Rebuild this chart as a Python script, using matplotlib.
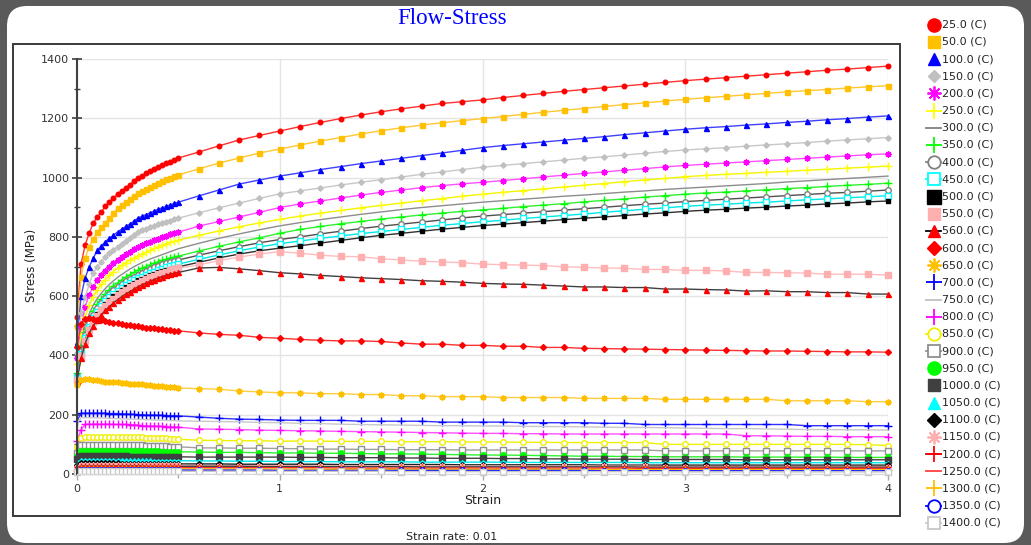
import matplotlib
matplotlib.use('Agg')
import matplotlib.pyplot as plt
from matplotlib.patches import FancyBboxPatch, Rectangle
from matplotlib.ticker import MultipleLocator

plt.rcParams['font.family'] = ['DejaVu Sans']

# ---------------- data ----------------
strain = [0.00, 0.02, 0.04, 0.06, 0.08, 0.10, 0.12, 0.14, 0.16, 0.18, 0.20, 0.22, 0.24,
          0.26, 0.28, 0.30, 0.32, 0.34, 0.36, 0.38, 0.40, 0.42, 0.44, 0.46, 0.48, 0.50,
          0.6, 0.7, 0.8, 0.9, 1.0, 1.1, 1.2, 1.3, 1.4, 1.5, 1.6, 1.7, 1.8, 1.9, 2.0,
          2.1, 2.2, 2.3, 2.4, 2.5, 2.6, 2.7, 2.8, 2.9, 3.0,
          3.1, 3.2, 3.3, 3.4, 3.5, 3.6, 3.7, 3.8, 3.9, 4.0]

temperatures = [25.0, 50.0, 100.0, 150.0, 200.0, 250.0, 300.0, 350.0, 400.0, 450.0,
                500.0, 550.0, 560.0, 600.0, 650.0, 700.0, 750.0, 800.0, 850.0, 900.0,
                950.0, 1000.0, 1050.0, 1100.0, 1150.0, 1200.0, 1250.0, 1300.0, 1350.0, 1400.0]

stress_25 = [530, 708, 772, 813, 846, 867, 884, 904, 917, 931, 944, 955, 965, 976, 987, 998, 1006, 1014, 1022, 1029, 1036, 1042, 1048, 1054, 1060, 1066,
             1086, 1107, 1127, 1142, 1157, 1172, 1186, 1199, 1211, 1222, 1232, 1241, 1250, 1256, 1262,
             1270, 1277, 1284, 1291, 1297, 1303, 1309, 1315, 1321, 1327,
             1332, 1337, 1342, 1347, 1352, 1357, 1362, 1366, 1371, 1376]
stress_50 = [499, 665, 729, 766, 793, 816, 833, 848, 862, 880, 897, 908, 918, 928, 938, 948, 955, 962, 969, 976, 982, 988, 994, 999, 1004, 1009,
             1029, 1049, 1066, 1083, 1096, 1110, 1123, 1135, 1147, 1158, 1168, 1177, 1185, 1192, 1199,
             1206, 1213, 1220, 1227, 1233, 1240, 1246, 1252, 1258, 1264,
             1269, 1274, 1279, 1284, 1289, 1293, 1297, 1302, 1306, 1310]
stress_100 = [445, 600, 661, 699, 728, 755, 770, 784, 796, 806, 816, 826, 835, 843, 853, 863, 869, 875, 881, 887, 893, 898, 903, 908, 913, 917,
              938, 958, 978, 992, 1005, 1016, 1027, 1037, 1047, 1056, 1065, 1074, 1083, 1092, 1101,
              1108, 1114, 1120, 1126, 1132, 1138, 1145, 1151, 1157, 1163,
              1168, 1172, 1177, 1181, 1186, 1190, 1195, 1199, 1204, 1208]
stress_150 = [408, 543, 597, 640, 678, 699, 716, 731, 744, 755, 766, 776, 786, 795, 806, 816, 822, 828, 833, 838, 843, 847, 851, 855, 859, 863,
              881, 898, 914, 930, 945, 955, 965, 975, 984, 993, 1002, 1011, 1019, 1027, 1035,
              1041, 1047, 1053, 1059, 1065, 1070, 1076, 1082, 1088, 1093,
              1097, 1101, 1106, 1110, 1114, 1118, 1123, 1127, 1131, 1135]
stress_200 = [391, 496, 564, 605, 631, 655, 672, 686, 699, 711, 722, 732, 741, 750, 758, 766, 772, 778, 784, 789, 794, 799, 804, 808, 812, 816,
              836, 852, 867, 883, 899, 911, 921, 931, 941, 950, 958, 966, 973, 979, 984,
              990, 996, 1002, 1008, 1014, 1019, 1025, 1030, 1036, 1041,
              1045, 1049, 1053, 1057, 1061, 1065, 1069, 1073, 1077, 1080]
stress_250 = [370, 470, 530, 570, 598, 621, 640, 656, 670, 683, 694, 704, 713, 721, 728, 735, 742, 748, 755, 761, 767, 772, 777, 781, 785, 789,
              805, 820, 834, 847, 859, 870, 880, 889, 898, 906, 914, 922, 929, 937, 944,
              950, 956, 962, 968, 974, 980, 986, 992, 997, 1003,
              1007, 1011, 1014, 1018, 1021, 1025, 1028, 1032, 1035, 1039]
stress_300 = [350, 440, 500, 540, 570, 592, 610, 626, 640, 652, 663, 673, 682, 691, 699, 706, 713, 719, 725, 730, 735, 740, 745, 750, 755, 760,
              778, 795, 810, 824, 837, 848, 858, 867, 876, 884, 892, 899, 905, 911, 917,
              922, 927, 932, 937, 941, 946, 951, 955, 960, 964,
              968, 972, 976, 980, 985, 989, 993, 997, 1001, 1005]
stress_350 = [340, 425, 480, 520, 550, 573, 592, 608, 622, 634, 645, 655, 664, 672, 680, 687, 694, 700, 706, 711, 716, 721, 725, 729, 732, 735,
              752, 768, 783, 797, 812, 825, 835, 844, 852, 860, 867, 874, 880, 886, 891,
              896, 902, 907, 912, 918, 923, 928, 934, 939, 944,
              948, 951, 955, 959, 963, 966, 970, 974, 977, 981]
stress_400 = [330, 415, 470, 508, 537, 560, 578, 594, 608, 620, 631, 641, 650, 658, 666, 673, 679, 685, 691, 697, 702, 707, 711, 715, 719, 722,
              738, 753, 767, 780, 791, 800, 810, 819, 828, 836, 843, 850, 857, 864, 870,
              875, 880, 885, 890, 895, 900, 905, 910, 914, 919,
              923, 927, 931, 935, 939, 943, 947, 950, 954, 958]
stress_450 = [325, 405, 460, 497, 525, 548, 566, 582, 596, 608, 619, 629, 638, 646, 653, 660, 666, 672, 678, 683, 688, 693, 697, 701, 705, 708,
              724, 739, 753, 766, 777, 786, 795, 803, 811, 818, 825, 832, 839, 845, 851,
              856, 862, 867, 872, 877, 883, 888, 893, 898, 903,
              907, 910, 914, 917, 921, 925, 928, 932, 935, 939]
stress_500 = [320, 400, 452, 490, 518, 540, 558, 574, 588, 600, 611, 621, 630, 638, 646, 653, 659, 665, 670, 675, 680, 684, 688, 692, 696, 699,
              714, 729, 742, 753, 762, 770, 779, 788, 797, 805, 812, 819, 826, 832, 838,
              843, 848, 853, 858, 863, 867, 872, 877, 881, 886,
              890, 893, 897, 900, 904, 907, 911, 914, 918, 921]
stress_550 = [318, 398, 448, 485, 512, 534, 552, 567, 580, 592, 603, 613, 622, 630, 638, 645, 652, 658, 664, 669, 674, 679, 683, 687, 691, 694,
              705, 720, 732, 742, 750, 745, 738, 734, 733, 726, 722, 718, 715, 713, 708,
              706, 705, 703, 699, 697, 695, 694, 690, 690, 687,
              687, 685, 680, 680, 679, 678, 674, 674, 674, 671]
stress_560 = [315, 390, 440, 475, 500, 520, 537, 552, 565, 577, 588, 598, 607, 615, 623, 631, 638, 644, 650, 656, 661, 666, 670, 674, 677, 680,
              695, 697, 692, 686, 679, 675, 670, 666, 662, 659, 656, 652, 650, 647, 643,
              641, 640, 637, 634, 631, 631, 629, 629, 624, 624,
              622, 621, 617, 618, 615, 615, 612, 612, 607, 607]
stress_600 = [430, 505, 524, 526, 524, 521, 518, 515, 512, 510, 508, 506, 504, 502, 500, 498, 496, 494, 493, 491, 490, 488, 487, 486, 484, 483,
              476, 471, 468, 461, 458, 454, 451, 449, 449, 447, 442, 438, 438, 434, 434,
              431, 431, 427, 427, 424, 423, 422, 421, 420, 419,
              418, 417, 416, 415, 415, 414, 413, 412, 412, 411]
stress_650 = [300, 318, 321, 320, 318, 316, 314, 312, 311, 310, 309, 308, 306, 305, 304, 303, 302, 300, 299, 298, 297, 296, 295, 293, 292, 290,
              288, 286, 280, 277, 274, 274, 271, 271, 268, 268, 264, 264, 261, 261, 261,
              258, 258, 258, 258, 255, 255, 255, 255, 252, 252,
              252, 252, 252, 252, 247, 247, 247, 247, 244, 244]
stress_700 = [180, 205, 205, 205, 205, 205, 205, 205, 204, 204, 204, 203, 202, 202, 201, 200, 200, 199, 199, 199, 198, 198, 197, 197, 196, 196,
              192, 188, 185, 184, 182, 181, 181, 181, 178, 178, 178, 178, 175, 175, 175,
              175, 173, 173, 173, 173, 171, 171, 167, 167, 167,
              167, 167, 167, 167, 167, 163, 163, 163, 163, 163]
stress_750 = [170, 190, 190, 190, 190, 189, 189, 188, 188, 187, 187, 186, 186, 185, 185, 184, 184, 183, 183, 182, 182, 181, 181, 180, 180, 179,
              178, 177, 176, 174, 173, 171, 170, 168, 167, 166, 165, 164, 163, 163, 162,
              162, 161, 160, 160, 159, 158, 157, 157, 156, 155,
              154, 153, 153, 152, 151, 150, 150, 149, 149, 148]
stress_800 = [110, 150, 168, 168, 168, 168, 168, 168, 168, 168, 167, 167, 167, 166, 166, 165, 163, 163, 162, 162, 161, 161, 160, 160, 159, 158,
              152, 151, 150, 148, 147, 146, 145, 144, 143, 142, 141, 140, 139, 138, 137,
              137, 136, 136, 135, 135, 135, 135, 135, 135, 135,
              135, 135, 129, 129, 128, 127, 127, 126, 126, 126]
stress_850 = [90, 120, 126, 126, 126, 126, 126, 126, 126, 126, 126, 125, 125, 125, 125, 124, 124, 123, 123, 122, 122, 121, 120, 119, 118, 117,
              114, 113, 112, 112, 111, 111, 111, 110, 110, 110, 109, 109, 109, 108, 108,
              108, 107, 107, 106, 106, 106, 106, 106, 100, 100,
              100, 100, 100, 100, 100, 100, 100, 100, 99, 96]
stress_900 = [70, 98, 98, 98, 98, 98, 98, 98, 98, 98, 98, 98, 98, 98, 98, 97, 97, 96, 96, 95, 94, 93, 93, 92, 92, 92,
              88, 88, 87, 87, 86, 85, 84, 84, 83, 83, 82, 82, 82, 81, 81,
              81, 81, 81, 81, 81, 81, 81, 81, 78, 78,
              78, 78, 78, 78, 78, 78, 78, 78, 78, 78]
stress_950 = [60, 78, 78, 78, 78, 78, 78, 78, 78, 78, 77, 77, 77, 77, 77, 77, 76, 76, 76, 76, 76, 75, 75, 75, 75, 75,
              74, 73, 73, 72, 71, 71, 70, 70, 69, 68, 68, 67, 66, 65, 64,
              64, 63, 62, 61, 60, 60, 59, 59, 58, 58,
              58, 58, 57, 57, 57, 57, 57, 56, 56, 56]
stress_1000 = [50, 60, 60, 60, 60, 60, 60, 60, 60, 60, 60, 60, 60, 59, 59, 59, 59, 59, 59, 58, 58, 58, 58, 58, 58, 58,
               57, 57, 57, 57, 57, 56, 56, 55, 55, 55, 54, 54, 53, 53, 53,
               52, 52, 51, 51, 50, 50, 50, 49, 49, 49,
               49, 49, 48, 48, 48, 48, 48, 48, 48, 48]
stress_1050 = [40, 47, 47, 47, 47, 47, 47, 47, 47, 47, 47, 47, 46, 46, 46, 46, 46, 46, 46, 45, 45, 45, 45, 45, 45, 45,
               44, 44, 43, 43, 42, 42, 42, 41, 41, 41, 41, 40, 40, 40, 40,
               40, 39, 39, 39, 39, 39, 39, 38, 38, 38,
               38, 38, 38, 38, 38, 38, 38, 38, 38, 38]
stress_1100 = [30, 36, 36, 36, 36, 36, 36, 36, 36, 36, 36, 35, 35, 35, 35, 35, 35, 35, 35, 35, 34, 34, 34, 34, 34, 34,
               34, 34, 33, 33, 33, 33, 33, 32, 32, 32, 32, 32, 32, 31, 31,
               31, 31, 31, 31, 31, 30, 30, 30, 30, 30,
               30, 30, 30, 30, 30, 30, 30, 30, 30, 30]
stress_1150 = [25, 30, 30, 30, 30, 30, 30, 30, 30, 30, 30, 30, 30, 30, 29, 29, 29, 29, 29, 29, 29, 29, 29, 29, 29, 29,
               28, 28, 28, 28, 28, 28, 27, 27, 27, 27, 27, 27, 27, 26, 26,
               26, 26, 26, 26, 26, 26, 26, 26, 25, 25,
               25, 25, 25, 25, 25, 25, 25, 25, 25, 25]
stress_1200 = [22, 27, 27, 27, 27, 27, 27, 27, 27, 27, 27, 27, 27, 27, 27, 27, 27, 26, 26, 26, 26, 26, 26, 26, 26, 26,
               26, 26, 26, 25, 25, 25, 25, 25, 25, 25, 25, 24, 24, 24, 24,
               24, 24, 24, 24, 24, 24, 24, 23, 23, 23,
               23, 23, 23, 23, 23, 23, 23, 23, 23, 23]
stress_1250 = [18, 22, 22, 22, 22, 22, 22, 22, 22, 22, 22, 22, 22, 22, 22, 21, 21, 21, 21, 21, 21, 21, 21, 21, 21, 21,
               21, 21, 21, 21, 21, 21, 21, 20, 20, 20, 20, 20, 20, 20, 20,
               20, 20, 20, 20, 20, 20, 20, 19, 19, 19,
               19, 19, 19, 19, 19, 19, 19, 19, 19, 19]
stress_1300 = [14, 17, 17, 17, 17, 17, 17, 17, 17, 17, 17, 17, 17, 17, 17, 17, 17, 17, 17, 17, 17, 17, 17, 17, 17, 17,
               17, 17, 17, 17, 17, 16, 16, 16, 16, 16, 16, 16, 16, 16, 16,
               16, 16, 16, 16, 16, 15, 15, 15, 15, 15,
               15, 15, 15, 15, 15, 15, 15, 15, 15, 15]
stress_1350 = [10, 13, 13, 13, 13, 13, 13, 13, 13, 13, 13, 13, 13, 13, 13, 13, 13, 13, 13, 13, 13, 13, 13, 13, 13, 13,
               13, 13, 13, 13, 12, 12, 12, 12, 12, 12, 12, 12, 12, 12, 12,
               12, 12, 12, 12, 12, 11, 11, 11, 11, 11,
               11, 11, 11, 11, 11, 11, 11, 11, 11, 11]
stress_1400 = [7, 9, 9, 9, 9, 9, 9, 9, 9, 9, 9, 9, 9, 9, 9, 9, 9, 9, 9, 9, 9, 9, 9, 9, 9, 9,
               9, 9, 9, 9, 9, 9, 9, 9, 9, 9, 8, 8, 8, 8, 8,
               8, 8, 8, 8, 8, 8, 8, 8, 8, 7,
               7, 7, 7, 7, 7, 7, 7, 7, 7, 7]

series_values = [stress_25, stress_50, stress_100, stress_150, stress_200, stress_250,
                 stress_300, stress_350, stress_400, stress_450, stress_500, stress_550,
                 stress_560, stress_600, stress_650, stress_700, stress_750, stress_800,
                 stress_850, stress_900, stress_950, stress_1000, stress_1050, stress_1100,
                 stress_1150, stress_1200, stress_1250, stress_1300, stress_1350, stress_1400]

# ---------------- styles ----------------
AST = (8, 2, 0)
def S(m, mc, lc, fill=True, ms=4, lms=9, legline=None, mew=1.0):
    return dict(m=m, mc=mc, lc=lc, fill=fill, ms=ms, lms=lms, legline=legline, mew=mew)

styles = [
    S('o', '#ff0000', '#ff3030', ms=3.3, lms=9.5),
    S('s', '#ffc000', '#ffc830', ms=3.6, lms=8),
    S('^', '#0000ff', '#4040ff', ms=3.6, lms=8.5),
    S('D', '#c0c0c0', '#c8c8c8', ms=2.8, lms=6.5),
    S(AST, '#ff00ff', '#ff50ff', ms=4.5, lms=10),
    S('+', '#ffff00', '#f4f400', ms=5.5, lms=11),
    S(None, '#808080', '#8c8c8c', legline='#808080'),
    S('+', '#00ff00', '#30f030', ms=5.5, lms=11),
    S('o', '#808080', '#505050', fill=False, ms=4, lms=9, legline='#808080'),
    S('s', '#00ffff', '#00e8e8', fill=False, ms=4, lms=9, legline='#00ffff'),
    S('s', '#000000', '#303030', ms=3.3, lms=9.5),
    S('s', '#ffafaf', '#ffbcbc', ms=3.8, lms=8),
    S('^', '#ff0000', '#404040', ms=3.6, lms=8.5, legline='#000000'),
    S('D', '#ff0000', '#ff3030', ms=3.0, lms=7),
    S(AST, '#ffc000', '#ffcc40', ms=4.5, lms=10),
    S('+', '#0000ff', '#3030ff', ms=5.5, lms=11),
    S(None, '#c8c8c8', '#c8c8c8', legline='#c0c0c0'),
    S('+', '#ff00ff', '#ff50ff', ms=5.5, lms=11),
    S('o', '#f0f000', '#f0f000', fill=False, ms=4, lms=9, legline='#f0f000'),
    S('s', '#909090', '#a0a0a0', fill=False, ms=4, lms=9, legline='#909090'),
    S('o', '#00ff00', '#30f030', ms=4, lms=9.5),
    S('s', '#404040', '#404040', ms=4, lms=9),
    S('^', '#00ffff', '#00e8e8', ms=3.6, lms=9),
    S('D', '#000000', '#202020', ms=3.0, lms=7.5),
    S(AST, '#ffafaf', '#ffb0b0', ms=4.5, lms=10),
    S('+', '#ff0000', '#404040', ms=5, lms=11, legline='#404040'),
    S(None, '#ff0000', '#ff2020', legline='#ff4040'),
    S('+', '#ffc000', '#ffc000', ms=5.5, lms=11),
    S('o', '#0000ff', '#2020ff', fill=False, ms=4, lms=9, legline='#0000ff'),
    S('s', '#c8c8c8', '#c8c8c8', fill=False, ms=4, lms=9, legline='#c8c8c8'),
]

# ---------------- figure ----------------
W, H = 1031, 545
fig = plt.figure(figsize=(W / 100, H / 100), dpi=100)
fig.patch.set_facecolor('#5a5a5a')

bg = fig.add_axes([0, 0, 1, 1], zorder=-1)
bg.set_xlim(0, W)
bg.set_ylim(H, 0)
bg.axis('off')
bg.add_patch(FancyBboxPatch((7, 6), 1017, 537, boxstyle='round,pad=0,rounding_size=20',
                            fc='white', ec='none'))
bg.add_patch(Rectangle((13, 44), 887, 472, fill=False, ec='#3a3a3a', lw=1.4))

bg.text(452, 19, 'Flow-Stress', color='#0000ff', family='Liberation Serif',
        fontsize=16.5, ha='center', va='center')
bg.text(452, 537, 'Strain rate: 0.01', color='#222222', fontsize=8,
        ha='center', va='center')

ax = fig.add_axes([77 / W, 1 - 474 / H, (888 - 77) / W, (474 - 59) / H])
ax.set_facecolor('none')
ax.set_xlim(0, 4)
ax.set_ylim(0, 1400)

for T, y, st in zip(temperatures, series_values, styles):
    assert len(y) == len(strain), T
    kw = dict(color=st['lc'], lw=1.0, clip_on=False)
    if st['m'] is not None:
        kw.update(marker=st['m'], ms=st['ms'], mec=st['mc'],
                  mfc=(st['mc'] if st['fill'] else 'white'), mew=st['mew'])
    ax.plot(strain, y, **kw)

ax.xaxis.set_major_locator(MultipleLocator(1))
ax.xaxis.set_minor_locator(MultipleLocator(0.5))
ax.yaxis.set_major_locator(MultipleLocator(200))
ax.yaxis.set_minor_locator(MultipleLocator(100))
ax.grid(True, which='major', color='#e4e4e4', lw=1.0, zorder=0)
ax.set_axisbelow(True)
for s in ['top', 'right']:
    ax.spines[s].set_visible(False)
ax.spines['bottom'].set_color('#d8d8d8')
ax.spines['left'].set_color('#404040')
ax.spines['left'].set_linewidth(1.5)
ax.tick_params(axis='y', which='major', direction='inout', length=7, width=1.2,
               color='#404040', labelsize=8, labelcolor='#333333', pad=2)
ax.tick_params(axis='y', which='minor', direction='inout', length=5, width=1.0,
               color='#404040')
ax.tick_params(axis='x', which='major', direction='out', length=4, width=1,
               color='#aaaaaa', labelsize=8, labelcolor='#333333', pad=3)
ax.tick_params(axis='x', which='minor', direction='out', length=3, width=1,
               color='#aaaaaa')

bg.text(31, 265, 'Stress (MPa)', rotation=90, fontsize=8.5, color='#222222',
        ha='center', va='center')
bg.text(483, 501, 'Strain', fontsize=9, color='#222222', ha='center', va='center')

# ---------------- legend ----------------
for i, (T, st) in enumerate(zip(temperatures, styles)):
    yy = 24.8 + 17.17 * i
    if st['legline'] is not None:
        bg.plot([926, 941], [yy, yy], color=st['legline'], lw=1.3)
    if st['m'] is not None:
        bg.plot([933.5], [yy], marker=st['m'], ms=st['lms'], mec=st['mc'],
                mfc=(st['mc'] if st['fill'] else 'white'),
                mew=1.3 if not st['fill'] or st['m'] in ('+', AST) else 1.0,
                ls='none')
    bg.text(942, yy, f'{T:.1f} (C)', fontsize=8, color='#222222', va='center', ha='left')

fig.savefig('out.png', dpi=100, facecolor=fig.get_facecolor())
